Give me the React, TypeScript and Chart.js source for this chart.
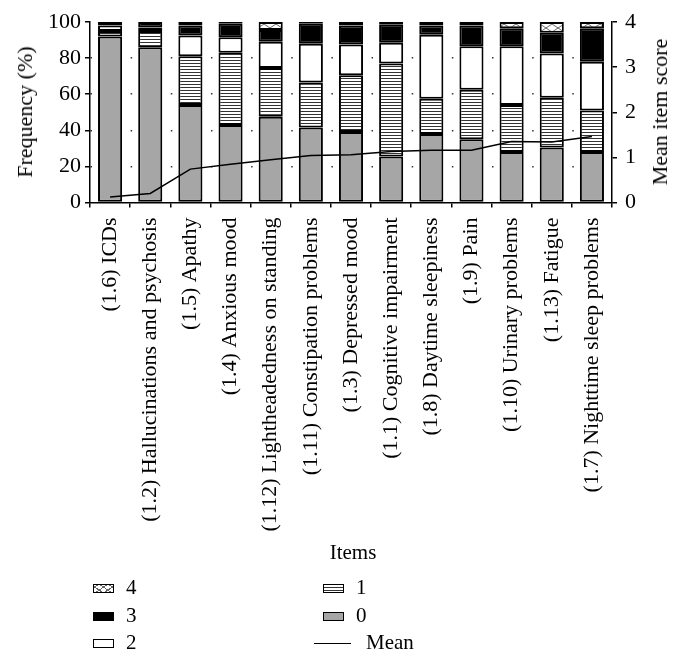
import React, { useEffect, useRef } from "react";
import { Chart, registerables } from "chart.js";
Chart.register(...registerables);

const categories = [
  "(1.6) ICDs",
  "(1.2) Hallucinations and psychosis",
  "(1.5) Apathy",
  "(1.4) Anxious mood",
  "(1.12) Lightheadedness on standing",
  "(1.11) Constipation problems",
  "(1.3) Depressed mood",
  "(1.1) Cognitive impairment",
  "(1.8) Daytime sleepiness",
  "(1.9) Pain",
  "(1.10) Urinary problems",
  "(1.13) Fatigue",
  "(1.7) Nighttime sleep problems",
];

const score0 = [92, 86, 54, 43, 47.5, 41.5, 39, 25.5, 38, 35, 28, 30.5, 28];
const score1 = [3, 9, 27, 40, 27, 25, 31.5, 51.5, 19.5, 27.5, 26, 27.5, 23];
const score2 = [3, 2, 11.5, 8.5, 14.5, 21.5, 17, 11.5, 35.5, 24, 32.5, 24.5, 27];
const score3 = [2, 3, 5.5, 7.5, 6.5, 11, 10.5, 10, 5, 11.5, 10, 11.5, 18.5];
const score4 = [0, 0, 2, 1, 4.5, 1, 2, 1.5, 2, 2, 3.5, 6, 3.5];
const meanScore = [0.12, 0.2, 0.74, 0.85, 0.95, 1.04, 1.06, 1.13, 1.16, 1.16, 1.35, 1.34, 1.46];

const freqTicks = [0, 20, 40, 60, 80, 100];
const meanTicks = [0, 1, 2, 3, 4];

const FONT = "'Liberation Serif', 'Times New Roman', serif";

function stripePattern(): CanvasPattern | string {
  const c = document.createElement("canvas");
  c.width = 4;
  c.height = 3;
  const g = c.getContext("2d");
  if (!g) return "#888";
  g.fillStyle = "#fff";
  g.fillRect(0, 0, 4, 3);
  g.fillStyle = "#333";
  g.fillRect(0, 0, 4, 1);
  return g.createPattern(c, "repeat") || "#888";
}

function crossPattern(): CanvasPattern | string {
  const c = document.createElement("canvas");
  c.width = 12;
  c.height = 8;
  const g = c.getContext("2d");
  if (!g) return "#ccc";
  g.fillStyle = "#fff";
  g.fillRect(0, 0, 12, 8);
  g.strokeStyle = "#666";
  g.lineWidth = 1;
  g.beginPath();
  g.moveTo(0, 0);
  g.lineTo(12, 8);
  g.moveTo(0, 8);
  g.lineTo(12, 0);
  g.stroke();
  return g.createPattern(c, "repeat") || "#ccc";
}

const textStyle: React.CSSProperties = {
  position: "absolute",
  fontFamily: FONT,
  fontSize: 21,
  color: "#000",
  whiteSpace: "nowrap",
  lineHeight: "1",
};

function LegendItem({ x, y, kind, label }: { x: number; y: number; kind: string; label: string }) {
  const box: React.CSSProperties = {
    position: "absolute",
    left: x,
    top: y - 4,
    width: 19,
    height: 7,
    border: "1.5px solid #000",
  };
  if (kind === "4") {
    box.background =
      "repeating-linear-gradient(35deg, transparent 0 4px, #666 4px 5px), repeating-linear-gradient(-35deg, transparent 0 4px, #666 4px 5px), #fff";
  } else if (kind === "3") {
    box.background = "#000";
  } else if (kind === "2") {
    box.background = "#fff";
  } else if (kind === "1") {
    box.background = "repeating-linear-gradient(to bottom, #fff 0 1.5px, #333 1.5px 3px)";
  } else if (kind === "0") {
    box.background = "#a6a6a6";
  }
  if (kind === "mean") {
    return (
      <>
        <div style={{ position: "absolute", left: x - 8, top: y, width: 37, height: 0, borderTop: "1.5px solid #000" }} />
        <div style={{ ...textStyle, left: x + 44, top: y - 11 }}>{label}</div>
      </>
    );
  }
  return (
    <>
      <div style={box} />
      <div style={{ ...textStyle, left: x + 33, top: y - 11 }}>{label}</div>
    </>
  );
}

export default function App() {
  const ref = useRef<HTMLCanvasElement | null>(null);

  useEffect(() => {
    if (!ref.current) return;
    const stripes = stripePattern();
    const cross = crossPattern();
    const tickFont = { family: FONT, size: 22 };
    const barCommon = {
      type: "bar" as const,
      borderColor: "#000",
      borderWidth: 2,
      borderSkipped: false as const,
      barPercentage: 0.6,
      categoryPercentage: 1,
      yAxisID: "y",
      order: 1,
    };
    const chart = new Chart(ref.current, {
      type: "bar",
      data: {
        labels: categories,
        datasets: [
          { ...barCommon, label: "0", data: score0, backgroundColor: "#a6a6a6" },
          { ...barCommon, label: "1", data: score1, backgroundColor: stripes as any },
          { ...barCommon, label: "2", data: score2, backgroundColor: "#fff" },
          { ...barCommon, label: "3", data: score3, backgroundColor: "#000" },
          { ...barCommon, label: "4", data: score4, backgroundColor: cross as any },
          {
            type: "line" as const,
            label: "Mean",
            data: meanScore,
            yAxisID: "y1",
            borderColor: "#000",
            borderWidth: 1.5,
            pointRadius: 0,
            tension: 0,
            fill: false,
            order: 0,
          } as any,
        ],
      },
      options: {
        responsive: false,
        animation: false,
        layout: { padding: { top: 22, left: 0, right: 0, bottom: 0 } },
        plugins: { legend: { display: false }, tooltip: { enabled: false } },
        scales: {
          x: {
            stacked: true,
            offset: true,
            grid: { drawOnChartArea: false, offset: true, tickLength: 5, color: "#000", lineWidth: 1.5 },
            border: { color: "#000", width: 1.5 },
            ticks: {
              autoSkip: false,
              minRotation: 90,
              maxRotation: 90,
              padding: 10,
              color: "#000",
              font: tickFont,
            },
            afterFit: (s: any) => {
              s.height = 663 - 202.5;
            },
          },
          y: {
            stacked: true,
            position: "left",
            min: 0,
            max: 100,
            afterBuildTicks: (s: any) => {
              s.ticks = freqTicks.map((v) => ({ value: v }));
            },
            grid: {
              color: (c: any) => (c.tick && (c.tick.value === 0 || c.tick.value === 100) ? "rgba(0,0,0,0)" : "#333"),
              lineWidth: 1.5,
              tickLength: 5,
              tickColor: "#000",
              tickWidth: 1.5,
              tickBorderDash: [],
            },
            border: { color: "#000", width: 1.5, dash: [1.5, 38.65] },
            ticks: { color: "#000", font: tickFont, padding: 4 },
            afterFit: (s: any) => {
              s.width = 90;
            },
          },
          y1: {
            position: "right",
            min: 0,
            max: 4,
            afterBuildTicks: (s: any) => {
              s.ticks = meanTicks.map((v) => ({ value: v }));
            },
            grid: { drawOnChartArea: false, tickLength: 5, color: "#000", lineWidth: 1.5 },
            border: { color: "#000", width: 1.5 },
            ticks: { color: "#000", font: tickFont, padding: 8 },
            afterFit: (s: any) => {
              s.width = 678 - 612;
            },
          },
        },
      },
    });
    return () => chart.destroy();
  }, []);

  return (
    <div style={{ position: "fixed", left: 0, top: 0, width: 678, height: 663, background: "#fff" }}>
      <canvas ref={ref} width={678} height={663} style={{ position: "absolute", left: 0, top: 0, width: 678, height: 663 }} />
      <div style={{ ...textStyle, fontSize: 22, left: 25, top: 112, transform: "translate(-50%, -50%) rotate(-90deg)" }}>Frequency (%)</div>
      <div style={{ ...textStyle, fontSize: 22, left: 660, top: 112, transform: "translate(-50%, -50%) rotate(-90deg)" }}>Mean item score</div>
      <div style={{ ...textStyle, left: 353, top: 552, transform: "translate(-50%, -50%)" }}>Items</div>
      <LegendItem x={93} y={588} kind="4" label="4" />
      <LegendItem x={93} y={616} kind="3" label="3" />
      <LegendItem x={93} y={643} kind="2" label="2" />
      <LegendItem x={323} y={588} kind="1" label="1" />
      <LegendItem x={323} y={616} kind="0" label="0" />
      <LegendItem x={322} y={643} kind="mean" label="Mean" />
    </div>
  );
}
